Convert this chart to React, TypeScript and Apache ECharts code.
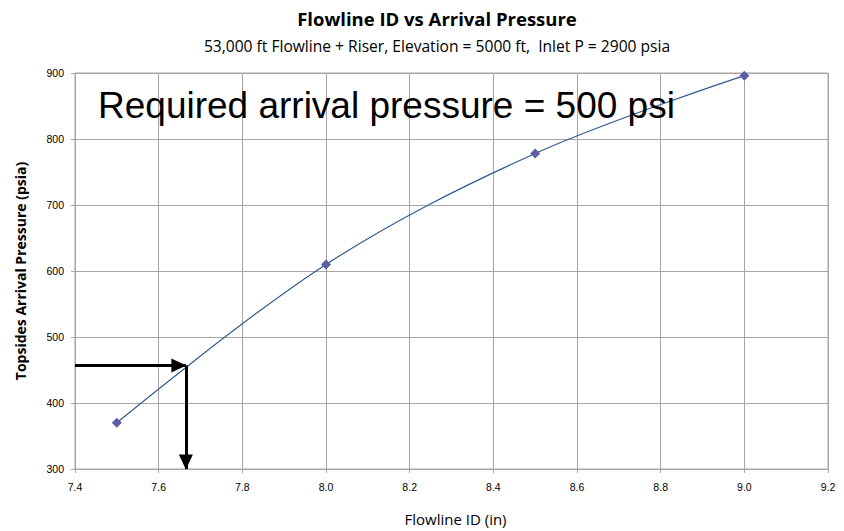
import React, { useEffect, useRef } from "react";
import * as echarts from "echarts";

const flowlineId = [7.5, 8.0, 8.5, 9.0];
const arrivalPressure = [370, 610, 778, 896];
const readoffId = 7.665;
const readoffPressure = 457;
const xTicks = { min: 7.4, max: 9.2, interval: 0.2 };
const yTicks = { min: 300, max: 900, interval: 100 };

export default function App() {
  const ref = useRef<HTMLDivElement>(null);
  useEffect(() => {
    if (!ref.current) return;
    const chart = echarts.init(ref.current, null, { renderer: "svg" });
    const grey = "#a6a6a6";
    const axisLabel = { color: "#000", fontFamily: "Liberation Sans, Arial", fontSize: 10.5 };
    chart.setOption({
      animation: false,
      backgroundColor: "#fff",
      title: [
        {
          text: "Flowline ID vs Arrival Pressure",
          left: 432,
          textAlign: "center",
          top: 4,
          textStyle: { fontFamily: "Open Sans", fontWeight: "bold", fontSize: 18.5, color: "#000" },
        },
        {
          text: "53,000 ft Flowline + Riser, Elevation = 5000 ft,  Inlet P = 2900 psia",
          left: 432,
          textAlign: "center",
          top: 33,
          textStyle: { fontFamily: "Open Sans", fontWeight: "normal", fontSize: 15.6, color: "#000" },
        },
      ],
      grid: { left: 75, right: 16, top: 73, bottom: 61, show: true, borderColor: grey, borderWidth: 1 },
      xAxis: {
        type: "value",
        min: xTicks.min,
        max: xTicks.max,
        interval: xTicks.interval,
        name: "Flowline ID (in)",
        nameLocation: "middle",
        nameGap: 42,
        nameTextStyle: { fontFamily: "Open Sans", fontSize: 15, color: "#000", padding: [0, 0, 0, 8] },
        axisLine: { lineStyle: { color: grey } },
        axisTick: { show: true, length: 4, lineStyle: { color: grey } },
        axisLabel: { ...axisLabel, margin: 12, formatter: (v: number) => v.toFixed(1) },
        splitLine: { show: true, lineStyle: { color: grey, width: 1 } },
      },
      yAxis: {
        type: "value",
        min: yTicks.min,
        max: yTicks.max,
        interval: yTicks.interval,
        name: "Topsides Arrival Pressure (psia)",
        nameLocation: "middle",
        nameGap: 48,
        nameTextStyle: { fontFamily: "Open Sans", fontSize: 14, fontWeight: "bold", color: "#000" },
        axisLine: { show: true, lineStyle: { color: grey } },
        axisTick: { show: true, length: 4, lineStyle: { color: grey } },
        axisLabel: { ...axisLabel, margin: 11 },
        splitLine: { show: true, lineStyle: { color: grey, width: 1 } },
      },
      graphic: [
        {
          type: "text",
          left: 98,
          top: 87,
          style: {
            text: "Required arrival pressure = 500 psi",
            fontFamily: "Liberation Sans, Arial",
            fontSize: 37,
            fill: "#000",
          },
          z: 10,
        },
      ],
      series: [
        {
          type: "line",
          data: flowlineId.map((x, i) => [x, arrivalPressure[i]]),
          smooth: 0.35,
          symbol: "diamond",
          symbolSize: 10,
          itemStyle: { color: "#5b5ea6" },
          lineStyle: { color: "#2f5c8f", width: 1.2 },
          z: 3,
          markLine: {
            silent: true,
            symbol: ["none", "triangle"],
            symbolSize: [14, 15],
            symbolOffset: [[0, 0], [0, 7]],
            label: { show: false },
            lineStyle: { color: "#000", width: 3, type: "solid" },
            data: [
              [
                { coord: [xTicks.min, readoffPressure] },
                { coord: [readoffId, readoffPressure] },
              ],
              [
                { coord: [readoffId, readoffPressure] },
                { coord: [readoffId, yTicks.min] },
              ],
            ],
          },
        },
      ],
    });
    return () => chart.dispose();
  }, []);
  return <div ref={ref} style={{ position: "fixed", left: 0, top: 0, width: 844, height: 531 }} />;
}
